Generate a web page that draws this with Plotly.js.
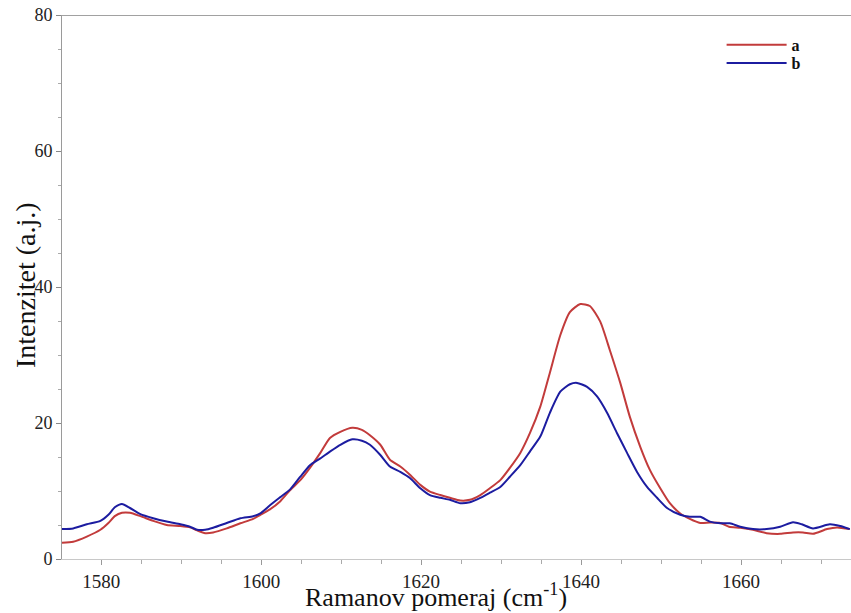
<!DOCTYPE html>
<html>
<head>
<meta charset="utf-8">
<script src="https://cdn.plot.ly/plotly-3.0.1.min.js"></script>
<style>html,body{margin:0;padding:0;background:#fff;}#chart{width:851px;height:613px;}</style>
</head>
<body>
<div id="chart"></div>
<script>
// Raman shift (cm-1) and intensity (a.u.) for series a (red)
const xA = [1575.1,1576.5,1578.2,1579.9,1580.9,1581.7,1582.6,1583.6,1584.9,1586.5,1588.2,1589.9,1591.1,1592,1593,1594,1595.7,1597.4,1599,1599.9,1601.1,1602.4,1603.6,1604.9,1606.1,1607.4,1608.6,1609.9,1611.4,1612.6,1613.6,1614.9,1616.1,1617.4,1618.6,1619.9,1621.1,1622.4,1623.6,1624.9,1626.1,1627.4,1628.6,1629.9,1631.1,1632.4,1633.6,1634.9,1636.1,1637.4,1638.6,1639.9,1641.1,1642.4,1643.6,1644.9,1646.1,1647.4,1648.6,1649.9,1651.1,1652.4,1653.6,1654.9,1656.1,1657.4,1658.5,1659.9,1661.5,1663.2,1664.9,1666.5,1667.75,1669,1670.75,1672,1673.6];
const yA = [2.4,2.55,3.3,4.3,5.3,6.3,6.8,6.8,6.3,5.6,5.0,4.85,4.65,4.2,3.8,3.9,4.5,5.25,5.9,6.5,7.3,8.5,10.1,11.6,13.4,15.6,17.8,18.7,19.3,19.0,18.2,16.8,14.6,13.6,12.4,10.9,9.9,9.4,9.0,8.6,8.7,9.4,10.4,11.6,13.4,15.6,18.5,22.4,27.4,32.9,36.3,37.5,37.2,34.9,30.7,25.9,20.9,16.5,13.1,10.4,8.2,6.7,5.9,5.3,5.35,5.3,4.75,4.6,4.3,3.8,3.7,3.9,3.9,3.7,4.4,4.65,4.4];

// series b (blue)
const xB = [1575.1,1576.5,1578.2,1579.9,1580.9,1581.7,1582.6,1583.6,1584.9,1586.5,1588.2,1589.9,1591.1,1592,1593,1594,1595.7,1597.4,1599,1599.9,1601.1,1602.4,1603.6,1604.9,1606.1,1607.4,1608.6,1609.9,1611.4,1612.6,1613.6,1614.9,1616.1,1617.4,1618.6,1619.9,1621.1,1622.4,1623.6,1624.9,1626.1,1627.4,1628.6,1629.9,1631.1,1632.4,1633.6,1634.9,1636.1,1637.4,1638.6,1639.5,1640.75,1642,1643.25,1644.5,1645.75,1647,1648.25,1649.5,1650.75,1652.4,1653.6,1654.9,1656.1,1657.4,1658.6,1659.9,1661.5,1663.2,1664.9,1666.5,1667.6,1669,1671.1,1672.4,1673.6];
const yB = [4.4,4.5,5.1,5.6,6.5,7.6,8.1,7.5,6.6,6.0,5.5,5.1,4.75,4.3,4.3,4.6,5.3,6.0,6.3,6.7,7.9,9.1,10.2,12.1,13.8,14.8,15.8,16.8,17.6,17.4,16.8,15.3,13.6,12.8,11.9,10.4,9.4,9.0,8.7,8.2,8.35,9.0,9.75,10.6,12.1,13.8,15.8,18.0,21.5,24.6,25.7,25.9,25.3,23.9,21.5,18.5,15.6,12.8,10.6,9.0,7.5,6.5,6.2,6.2,5.5,5.25,5.25,4.75,4.4,4.4,4.75,5.4,5.1,4.5,5.1,4.85,4.4];

const seriesNames = ['a', 'b'];
const xTitle = 'Ramanov pomeraj (cm<sup>-1</sup>)';
const yTitle = 'Intenzitet (a.j.)';

const serif = 'Liberation Serif';

const traces = [
  {x: xA, y: yA, name: seriesNames[0], type: 'scatter', mode: 'lines', legend: 'legend',
   line: {color: '#c23b3b', width: 2, shape: 'spline', smoothing: 0.6}},
  {x: xB, y: yB, name: seriesNames[1], type: 'scatter', mode: 'lines', legend: 'legend2',
   line: {color: '#1c1ca0', width: 2, shape: 'spline', smoothing: 0.6}}
];

const legFont = {family: serif, size: 16, color: '#111', weight: 'bold'};

const layout = {
  width: 851, height: 613,
  margin: {l: 62, r: 0, t: 15, b: 54},
  paper_bgcolor: '#fff', plot_bgcolor: '#fff',
  font: {family: serif, color: '#222'},
  showlegend: true,
  legend: {x: 0.836, y: 0.9449, xanchor: 'left', yanchor: 'middle',
           font: legFont, bgcolor: 'rgba(0,0,0,0)', itemwidth: 60},
  legend2: {x: 0.836, y: 0.9118, xanchor: 'left', yanchor: 'middle',
           font: legFont, bgcolor: 'rgba(0,0,0,0)', itemwidth: 60},
  xaxis: {
    range: [1575.1, 1673.75], tick0: 1580, dtick: 20,
    showgrid: false, zeroline: false,
    showline: true, linecolor: '#c8c8c8', linewidth: 1,
    ticks: 'outside', ticklen: 5, tickcolor: '#999', tickwidth: 1,
    minor: {dtick: 5, tick0: 1580, ticks: 'outside', ticklen: 4, tickcolor: '#aaa', showgrid: false},
    tickfont: {family: serif, size: 19, color: '#222'}
  },
  yaxis: {
    range: [0, 80], tick0: 0, dtick: 20,
    showgrid: false, zeroline: false,
    showline: true, linecolor: '#9a9a9a', linewidth: 1,
    ticks: 'outside', ticklen: 5, tickcolor: '#888', tickwidth: 1,
    minor: {dtick: 5, ticks: 'outside', ticklen: 3, tickcolor: '#aaa', showgrid: false},
    tickfont: {family: serif, size: 18, color: '#222'}
  },
  annotations: [
    {text: xTitle, xref: 'paper', yref: 'paper', x: 0.474, y: -0.0665,
     xanchor: 'center', yanchor: 'middle', showarrow: false,
     font: {family: serif, size: 26, color: '#111'}},
    {text: yTitle, xref: 'paper', yref: 'paper', x: -0.0456, y: 0.5037,
     xanchor: 'center', yanchor: 'middle', showarrow: false, textangle: -90,
     font: {family: serif, size: 28, color: '#111'}}
  ],
  shapes: [
    {type: 'line', xref: 'paper', yref: 'y', x0: 0, x1: 1, y0: 80, y1: 80,
     line: {color: '#444', width: 1}}
  ]
};

Plotly.newPlot('chart', traces, layout, {displayModeBar: false, staticPlot: true});
</script>
</body>
</html>
